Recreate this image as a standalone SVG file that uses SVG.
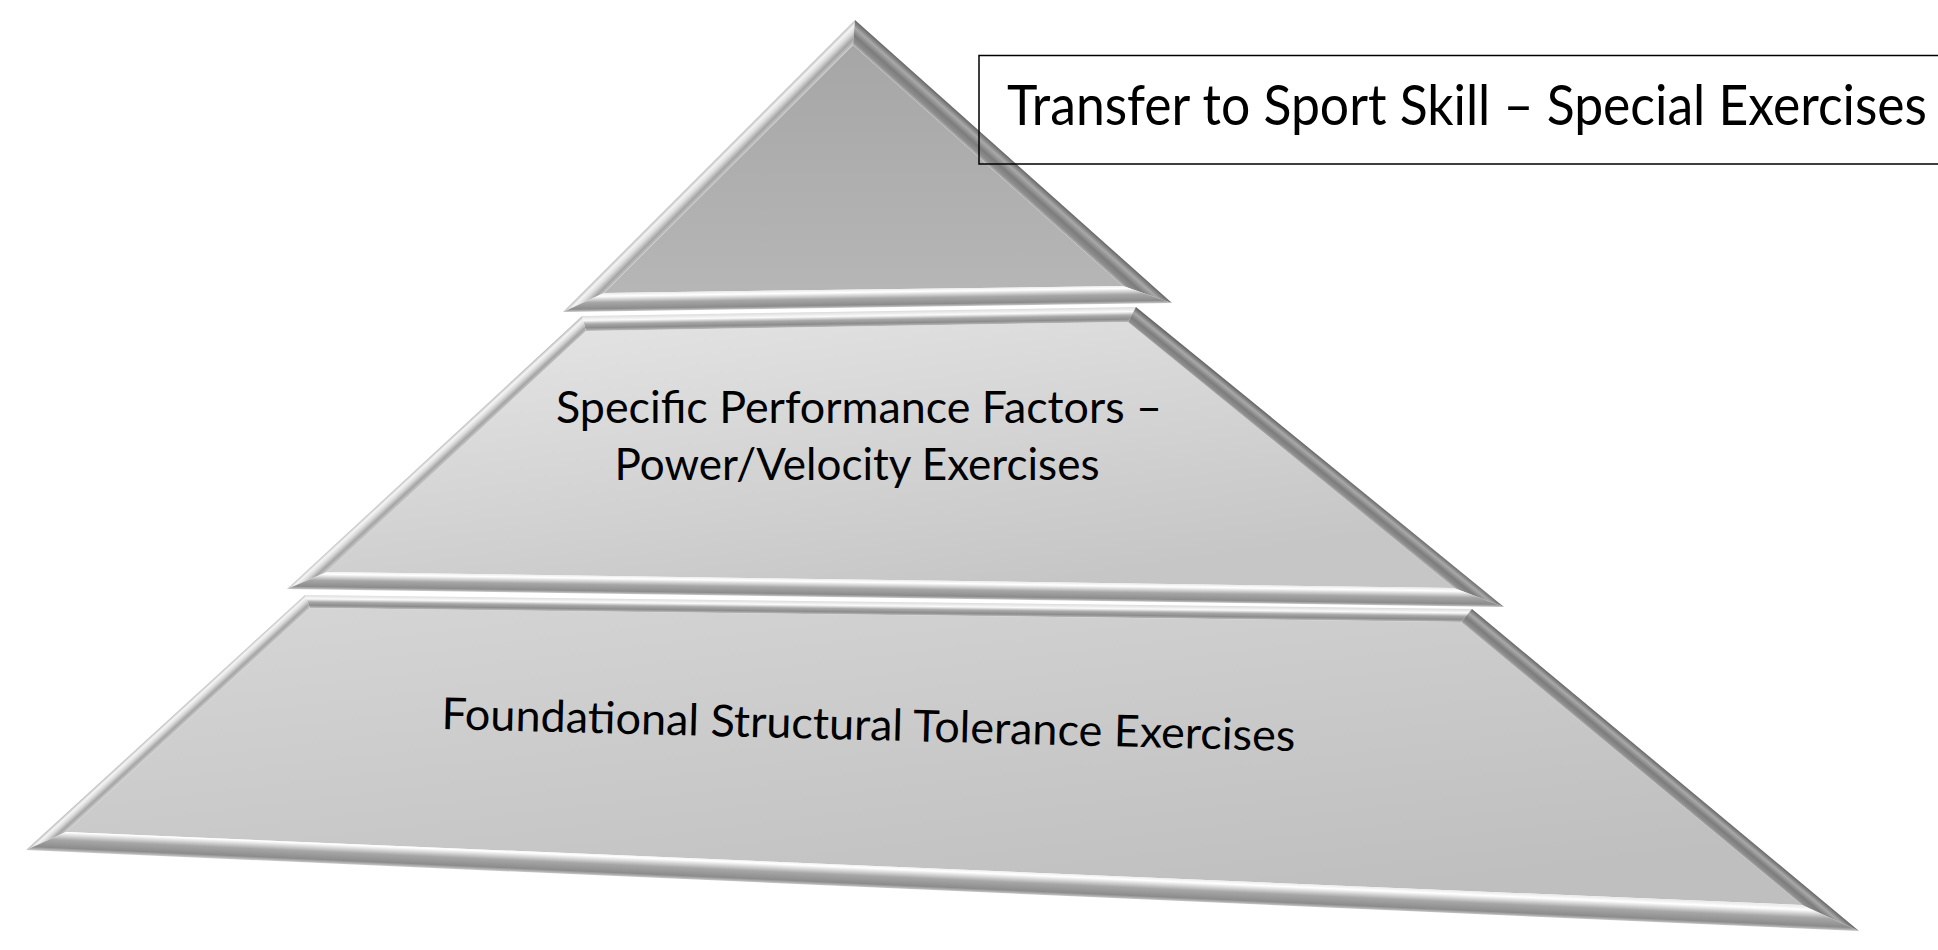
<svg xmlns="http://www.w3.org/2000/svg" width="1938" height="950" viewBox="0 0 1938 950">
<style>
.lbl{font-family:Lato,"Open Sans","Liberation Sans",sans-serif;fill:#000;}
.body{font-size:44px;}
.title{font-size:56px;}
.box{fill:none;stroke:#000;stroke-width:1.5;}
</style>
<defs>
<linearGradient id="gLight">
<stop offset="0" stop-color="#bdbdbd"/><stop offset="0.2" stop-color="#f5f5f5"/><stop offset="0.45" stop-color="#dadada"/><stop offset="0.75" stop-color="#a4a4a4"/><stop offset="1" stop-color="#c8c8c8"/>
</linearGradient>
<linearGradient id="gDark">
<stop offset="0" stop-color="#666666"/><stop offset="0.3" stop-color="#a9a9a9"/><stop offset="0.6" stop-color="#7c7c7c"/><stop offset="0.85" stop-color="#8e8e8e"/><stop offset="1" stop-color="#b4b4b4"/>
</linearGradient>
<linearGradient id="gBottom">
<stop offset="0" stop-color="#c8c8c8"/><stop offset="0.15" stop-color="#8c8c8c"/><stop offset="0.5" stop-color="#a6a6a6"/><stop offset="0.75" stop-color="#e6e6e6"/><stop offset="0.85" stop-color="#ffffff"/><stop offset="1" stop-color="#ececec"/>
</linearGradient>
<linearGradient id="gTop">
<stop offset="0" stop-color="#dcdcdc"/><stop offset="0.3" stop-color="#fafafa"/><stop offset="0.55" stop-color="#a8a8a8"/><stop offset="0.8" stop-color="#8c8c8c"/><stop offset="1" stop-color="#bdbdbd"/>
</linearGradient>
<linearGradient id="tL" href="#gLight" gradientUnits="userSpaceOnUse" x1="709" y1="166" x2="720.3" y2="177.3"/>
<linearGradient id="tR" href="#gDark" gradientUnits="userSpaceOnUse" x1="1013.5" y1="161.5" x2="1000.2" y2="176.4"/>
<linearGradient id="tB" href="#gBottom" gradientUnits="userSpaceOnUse" x1="867" y1="307.5" x2="866.73" y2="289.5"/>
<linearGradient id="mT" href="#gTop" gradientUnits="userSpaceOnUse" x1="859" y1="311.5" x2="859.24" y2="326.5"/>
<linearGradient id="mL" href="#gLight" gradientUnits="userSpaceOnUse" x1="434.5" y1="452.5" x2="444" y2="462.8"/>
<linearGradient id="mR" href="#gDark" gradientUnits="userSpaceOnUse" x1="1320" y1="457" x2="1309.3" y2="470.2"/>
<linearGradient id="mB" href="#gBottom" gradientUnits="userSpaceOnUse" x1="895.5" y1="598" x2="895.77" y2="580"/>
<linearGradient id="bT" href="#gTop" gradientUnits="userSpaceOnUse" x1="888.5" y1="602" x2="888.34" y2="615"/>
<linearGradient id="bL" href="#gLight" gradientUnits="userSpaceOnUse" x1="165.5" y1="722.5" x2="174.3" y2="732.1"/>
<linearGradient id="bR" href="#gDark" gradientUnits="userSpaceOnUse" x1="1665.5" y1="770" x2="1654.6" y2="783.1"/>
<linearGradient id="bB" href="#gBottom" gradientUnits="userSpaceOnUse" x1="942.5" y1="890.5" x2="943.5" y2="868"/>
<linearGradient id="faceTop" x1="0" y1="0" x2="0" y2="1">
<stop offset="0" stop-color="#a6a6a6"/><stop offset="1" stop-color="#b6b6b6"/>
</linearGradient>
<linearGradient id="faceMid" x1="0" y1="0" x2="0.6" y2="1">
<stop offset="0" stop-color="#e6e6e6"/><stop offset="1" stop-color="#c6c6c6"/>
</linearGradient>
<linearGradient id="faceBot" x1="0" y1="0" x2="0.7" y2="1">
<stop offset="0" stop-color="#d6d6d6"/><stop offset="1" stop-color="#bfbfbf"/>
</linearGradient>
</defs>

<g id="tier-bottom">
<polygon points="310,608 1461,622 1802,905 66,832" fill="url(#faceBot)"/>
<polygon points="305,595 1472,609 1461,622 310,608" fill="url(#bT)"/>
<polygon points="305,595 310,608 66,832 26,850" fill="url(#bL)"/>
<polygon points="1472,609 1859,931 1802,905 1461,622" fill="url(#bR)"/>
<polygon points="26,850 66,832 1802,905 1859,931" fill="url(#bB)"/>
<text class="lbl body" x="868" y="740" text-anchor="middle" textLength="854" lengthAdjust="spacingAndGlyphs" transform="rotate(1.48 868 740)">Foundational Structural Tolerance Exercises</text>
</g>

<g id="tier-middle">
<polygon points="586,331 1128,322 1454,588 327,572" fill="url(#faceMid)"/>
<polygon points="582,316 1136,307 1128,322 586,331" fill="url(#mT)"/>
<polygon points="582,316 586,331 327,572 287,589" fill="url(#mL)"/>
<polygon points="1136,307 1504,607 1454,588 1128,322" fill="url(#mR)"/>
<polygon points="287,589 327,572 1454,588 1504,607" fill="url(#mB)"/>
<text class="lbl body" x="859" y="423" text-anchor="middle" textLength="606" lengthAdjust="spacingAndGlyphs">Specific Performance Factors –</text>
<text class="lbl body" x="857" y="480" text-anchor="middle" textLength="485" lengthAdjust="spacingAndGlyphs">Power/Velocity Exercises</text>
</g>

<g id="tier-top">
<polygon points="853,45 1123,286 604,293" fill="url(#faceTop)"/>
<polygon points="855,20 853,45 604,293 563,312" fill="url(#tL)"/>
<polygon points="855,20 1172,303 1123,286 853,45" fill="url(#tR)"/>
<polygon points="563,312 604,293 1123,286 1172,303" fill="url(#tB)"/>
</g>

<g id="title-box">
<rect class="box" x="979" y="55.5" width="980" height="108.5"/>
<text class="lbl title" x="1007" y="125" textLength="920" lengthAdjust="spacingAndGlyphs">Transfer to Sport Skill – Special Exercises</text>
</g>
</svg>
